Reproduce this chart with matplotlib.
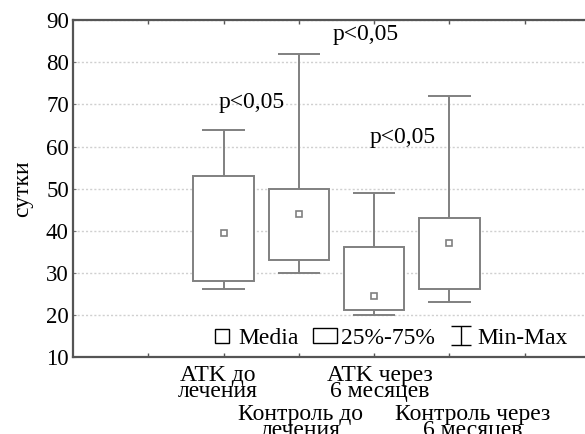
import numpy as np
import matplotlib.pyplot as plt
from matplotlib.patches import Patch
from matplotlib.lines import Line2D
from matplotlib.transforms import ScaledTranslation
from matplotlib.legend_handler import HandlerErrorbar
from matplotlib.container import ErrorbarContainer

plt.rcParams['font.family'] = ['Liberation Serif', 'DejaVu Serif']

# данные
grupos = ["ATK до\nлечения", "Контроль до\nлечения", "ATK через\n6 месяцев", "Контроль через\n6 месяцев"]
media = [39.5, 44, 24.5, 37]
q25 = [28, 33, 21, 26]
q75 = [53, 50, 36, 43]
minimo = [26, 30, 20, 23]
maximo = [64, 82, 49, 72]
p_textos = ["p<0,05", "p<0,05", "p<0,05"]
p_x = [1.37, 2.89, 3.38]
p_y = [70.5, 86.7, 62.1]

cinza = "#808080"
pos = np.arange(1, len(grupos) + 1)

fig = plt.figure(figsize=(5.85, 4.34), dpi=100)
ax = fig.add_axes([73/585, 0.178, 527/585, 0.775])

# caixas 25%-75%
ax.bar(pos, np.array(q75) - np.array(q25), bottom=q25, width=0.8,
       facecolor="white", edgecolor=cinza, linewidth=1.4, zorder=3)
# bigodes min-max
ax.vlines(pos, q75, maximo, color=cinza, lw=1.4, zorder=2)
ax.vlines(pos, minimo, q25, color=cinza, lw=1.4, zorder=2)
ax.hlines(maximo, pos - 0.28, pos + 0.28, color=cinza, lw=1.4, zorder=2)
ax.hlines(minimo, pos - 0.28, pos + 0.28, color=cinza, lw=1.4, zorder=2)
# media
ax.plot(pos, media, ls="none", marker="s", ms=4, mfc="white", mec=cinza, mew=1.2, zorder=4)

for t, x, y in zip(p_textos, p_x, p_y):
    ax.text(x, y, t, ha="center", va="center", fontsize=17)

ax.set_xlim(-1, 6)
ax.set_ylim(10, 90)
ax.set_yticks(np.arange(10, 91, 10))
ax.tick_params(axis="y", direction="in", length=2, color="#777777", labelsize=16.5, pad=3)
ax.yaxis.grid(True, ls=(0, (1.5, 1.5)), color="#d0d0d0", lw=1)
ax.set_axisbelow(True)

ax.set_xticks(pos)
ax.set_xticklabels(grupos, fontsize=17, linespacing=0.68)
ax.set_xticks([0, 5], minor=True)
ax.tick_params(axis="x", which="both", direction="in", length=3, width=1,
               color="#555555", top=True, pad=6)
for i, tick in enumerate(ax.xaxis.get_major_ticks()):
    if i % 2 == 1:
        tick.set_pad(34)
# pequeno deslocamento horizontal dos rotulos como no original (em pixels)
desloc = [-6, 2, 6, 23]
for lab, dx in zip(ax.get_xticklabels(), desloc):
    lab.set_transform(lab.get_transform() + ScaledTranslation(dx / 100, 0, fig.dpi_scale_trans))

for s in ["left", "bottom", "top"]:
    ax.spines[s].set_color("#555555")
    ax.spines[s].set_linewidth(1.6)
ax.spines["right"].set_visible(False)

ax.set_ylabel("сутки", fontsize=17, labelpad=9)

eb = ax.errorbar([-5], [50], yerr=[5], ls="none", color="black", capsize=7, elinewidth=1, capthick=1)
handles = [Line2D([], [], ls="none", marker="s", ms=10, mfc="white", mec="black", mew=1),
           Patch(facecolor="white", edgecolor="black", linewidth=1),
           eb]
ax.legend(handles, ["Media", "25%-75%", "Min-Max"], loc="center", bbox_to_anchor=(0.6, 0.055),
          ncol=3, frameon=False, fontsize=17, handlelength=1.0, handleheight=0.6,
          handletextpad=0.2, columnspacing=0.6, borderpad=0,
          handler_map={ErrorbarContainer: HandlerErrorbar(yerr_size=0.4)})

fig.savefig("out.png", dpi=100)
